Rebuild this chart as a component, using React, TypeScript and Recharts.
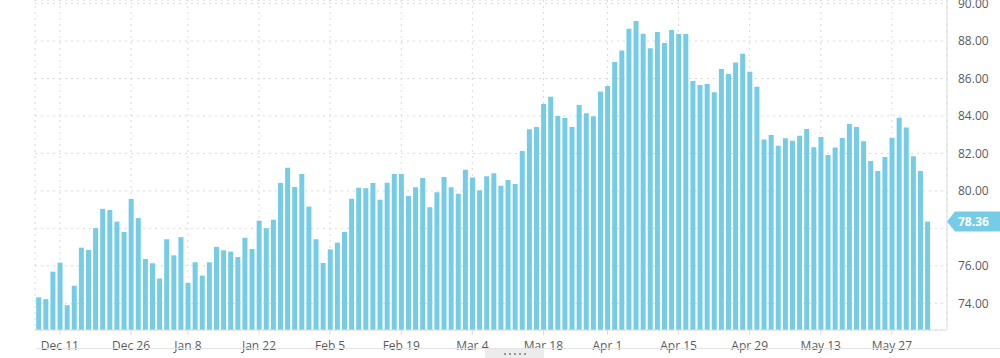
import { BarChart, Bar, XAxis, YAxis, CartesianGrid, ReferenceLine } from 'recharts'

// trading days, Dec 2023 - Jun 2024
const decDays = [6, 7, 8, 11, 12, 13, 14, 15, 18, 19, 20, 21, 22, 26, 27, 28, 29]
const janDays = [2, 3, 4, 5, 8, 9, 10, 11, 12, 15, 16, 17, 18, 19, 22, 23, 24, 25, 26, 29, 30, 31]
const febDays = [1, 2, 5, 6, 7, 8, 9, 12, 13, 14, 15, 16, 19, 20, 21, 22, 23, 26, 27, 28, 29]
const marDays = [1, 4, 5, 6, 7, 8, 11, 12, 13, 14, 15, 18, 19, 20, 21, 22, 25, 26, 27, 28]
const aprDays = [1, 2, 3, 4, 5, 8, 9, 10, 11, 12, 15, 16, 17, 18, 19, 22, 23, 24, 25, 26, 29, 30]
const mayDays = [1, 2, 3, 6, 7, 8, 9, 10, 13, 14, 15, 16, 17, 20, 21, 22, 23, 24, 27, 28, 29, 30, 31]
const junDays = [3]

const prices = [
  74.32, 74.22, 75.69, 76.17, 73.9, 74.94, 76.97, 76.85, 78.01, 79.04,
  78.98, 78.36, 77.81, 79.57, 78.55, 76.37, 76.14, 75.32, 77.42, 76.56,
  77.53, 75.09, 76.19, 75.48, 76.19, 77.01, 76.83, 76.76, 76.47, 77.5,
  76.9, 78.41, 78.01, 78.46, 80.42, 81.24, 80.21, 80.9, 79.16, 77.42,
  76.15, 76.88, 77.24, 77.81, 79.58, 80.17, 80.14, 80.42, 79.53, 80.44,
  80.9, 80.9, 79.73, 80.19, 80.69, 79.13, 79.93, 80.74, 80.19, 79.85,
  81.13, 80.71, 80.03, 80.78, 80.94, 80.28, 80.58, 80.37, 82.13, 83.29,
  83.41, 84.64, 85.03, 84.0, 83.89, 83.41, 84.58, 84.14, 83.98, 85.31,
  85.6, 86.88, 87.5, 88.66, 89.07, 88.39, 87.61, 88.48, 87.89, 88.59,
  88.37, 88.37, 85.87, 85.65, 85.71, 85.26, 86.51, 86.24, 86.86, 87.32,
  86.36, 85.56, 82.75, 82.98, 82.41, 82.81, 82.68, 82.95, 83.3, 82.33,
  82.88, 81.92, 82.31, 82.82, 83.57, 83.41, 82.65, 81.6, 81.06, 81.81,
  82.84, 83.91, 83.39, 81.85, 81.06, 78.36,
]

const xTicks = ['Dec 11', 'Dec 26', 'Jan 8', 'Jan 22', 'Feb 5', 'Feb 19', 'Mar 4', 'Mar 18', 'Apr 1', 'Apr 15', 'Apr 29', 'May 13', 'May 27']
const yTicks = [74, 76, 78, 80, 82, 84, 86, 88, 90]

const months: [string, number[]][] = [
  ['Dec', decDays], ['Jan', janDays], ['Feb', febDays], ['Mar', marDays],
  ['Apr', aprDays], ['May', mayDays], ['Jun', junDays],
]
const dates = months.flatMap(([m, days]) => days.map((d) => `${m} ${d}`))
const data = dates.map((date, i) => ({ date, price: prices[i] }))
const last = prices[prices.length - 1]

const BAR = '#76cce6'
const TICK = { fill: '#5b5b5b', fontSize: 12, fontFamily: 'Open Sans, sans-serif' }

function PriceBadge(props: any) {
  const vb = props.viewBox || {}
  const x0 = vb.x + vb.width
  const y = vb.y
  return (
    <g>
      <polygon points={`${x0},${y} ${x0 + 8},${y - 10} ${x0 + 60},${y - 10} ${x0 + 60},${y + 10} ${x0 + 8},${y + 10}`} fill={BAR} />
      <text x={x0 + 11} y={y} dy="0.36em" fill="#fff" fontSize={12} fontWeight={700} fontFamily="Open Sans, sans-serif">
        {last.toFixed(2)}
      </text>
    </g>
  )
}

export default function App() {
  return (
    <div style={{ position: 'absolute', top: 0, left: 0, width: 1000, height: 358, fontFamily: 'Open Sans, sans-serif', background: '#fff', overflow: 'hidden' }}>
      <BarChart width={1000} height={358} data={data} margin={{ top: 0, right: 0, bottom: 0, left: 35 }} barCategoryGap="17%">
        <CartesianGrid stroke="#d9d9d9" strokeDasharray="2 4" />
        <XAxis
          dataKey="date"
          ticks={xTicks}
          interval={0}
          height={28}
          padding={{ left: 0, right: 16 }}
          axisLine={{ stroke: '#dcdcdc' }}
          tickLine={{ stroke: '#dcdcdc' }}
          tickSize={5}
          tickMargin={6}
          tick={TICK}
        />
        <YAxis
          orientation="right"
          width={53}
          domain={[72.575, 90.19]}
          allowDataOverflow
          ticks={yTicks}
          interval={0}
          // the last-price badge sits over the 78.00 label
          tickFormatter={(v: number) => (Math.abs(v - last) < 1 ? '' : v.toFixed(2))}
          axisLine={{ stroke: '#dcdcdc' }}
          tickLine={false}
          tickMargin={5}
          tick={TICK}
        />
        <Bar dataKey="price" fill={BAR} isAnimationActive={false} />
        <ReferenceLine y={last} stroke="none" ifOverflow="visible" label={(p: any) => <PriceBadge {...p} />} />
      </BarChart>
      {/* range navigator strip */}
      <div style={{ position: 'absolute', left: 36, top: 348, width: 964, height: 1, background: '#e3e3e3' }} />
      <div style={{ position: 'absolute', left: 485, top: 349, width: 59, height: 9, background: '#ececec', display: 'flex', justifyContent: 'center', alignItems: 'center', gap: 3 }}>
        {[0, 1, 2, 3, 4].map((k) => (
          <div key={k} style={{ width: 2, height: 2, borderRadius: 1, background: '#777' }} />
        ))}
      </div>
    </div>
  )
}
